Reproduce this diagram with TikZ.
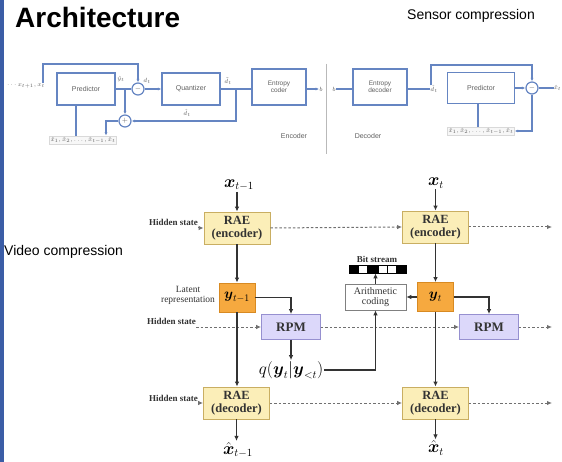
\documentclass[tikz,border=0pt]{standalone}
\usepackage{amsmath}
\usepackage[no-math]{fontspec}
\setmainfont{Liberation Sans}
\newfontfamily\tnr{Liberation Serif}
\usetikzlibrary{arrows.meta,positioning}

\definecolor{stripe}{HTML}{3B5DA6}
\definecolor{sblue}{HTML}{6585C2}
\definecolor{stext}{HTML}{606060}
\definecolor{raefill}{HTML}{FBEEB8}
\definecolor{raedraw}{HTML}{C9AE62}
\definecolor{yfill}{HTML}{F6A93F}
\definecolor{ydraw}{HTML}{D88A22}
\definecolor{rpmfill}{HTML}{DCD8FA}
\definecolor{rpmdraw}{HTML}{9690D0}
\definecolor{ink}{HTML}{333333}
\definecolor{dotgray}{HTML}{707070}

\tikzset{
  % sensor (DPCM) diagram
  sbox/.style={draw=sblue, line width=1.2pt, fill=white, minimum width=58, minimum height=32,
    inner sep=0, font=\fontsize{7}{7.5}\selectfont, text=stext, align=center},
  sline/.style={draw=sblue, line width=1.2pt},
  sarr/.style={sline, -{Latex[length=3.5pt,width=3pt]}},
  scirc/.style={circle, draw=sblue, line width=1.2pt, fill=white, minimum size=12, inner sep=0,
    font=\fontsize{7}{7}\selectfont, text=stext},
  slab/.style={inner sep=0, font=\fontsize{6.5}{7}\selectfont, text=stext},
  hist/.style={draw=gray!30, fill=gray!6, inner sep=1pt, font=\fontsize{6}{7}\selectfont, text=stext},
  % video compression diagram
  rae/.style={draw=raedraw, fill=raefill, line width=0.8pt, minimum width=66, minimum height=32,
    inner sep=0, align=center, font=\tnr\bfseries\fontsize{12.5}{12.5}\selectfont, text=ink},
  ybox/.style={draw=ydraw, fill=yfill, line width=0.8pt, minimum width=36, minimum height=29,
    inner sep=0, font=\fontsize{14}{16}\selectfont},
  rpm/.style={draw=rpmdraw, fill=rpmfill, line width=0.8pt, minimum width=59, minimum height=25,
    inner sep=0, font=\tnr\bfseries\fontsize{13}{14}\selectfont, text=ink},
  abox/.style={draw=gray, fill=white, line width=0.6pt, minimum width=61, minimum height=26,
    inner sep=0, align=center, font=\tnr\fontsize{10}{10.5}\selectfont, text=ink},
  hlab/.style={inner sep=0, font=\tnr\bfseries\fontsize{9}{10}\selectfont, text=ink},
  mlab/.style={inner sep=1pt, font=\fontsize{16}{18}\selectfont},
  bitsq/.style={draw=black, line width=0.6pt, minimum width=9, minimum height=8, inner sep=0},
  flow/.style={draw=ink, line width=1.3pt, -{Latex[length=5pt,width=4.5pt]}},
  dots/.style={draw=dotgray, line width=1pt, dash pattern=on 2.5pt off 2pt,
    -{Latex[length=5pt,width=4.5pt]}},
}

\begin{document}
\begin{tikzpicture}[x=1pt,y=-1pt]
\useasboundingbox (0,0) rectangle (562,462);
\fill[white] (0,0) rectangle (562,462);
\fill[stripe] (0,0) rectangle (3.5,462);
\clip (0,0) rectangle (562,462);

% headings
\node[anchor=base west, inner sep=0, font=\bfseries\fontsize{28}{30}\selectfont] (title) at (15,28) {Architecture};
\node[anchor=base west, inner sep=0, font=\fontsize{14}{16}\selectfont] (sensor) at (407,20) {Sensor compression};
\node[anchor=base west, inner sep=0, font=\fontsize{14}{16}\selectfont] (video) at (4,256) {Video compression};

% ---------------- sensor compression: encoder ----------------
\node[slab] (xin) at (26,86) {$\cdots x_{t+1}, x_t$};
\node[sbox] (pred1) at (86,89) {Predictor};
\node[scirc] (sub1) at (138,89) {$-$};
\node[sbox] (quant) at (191,89) {Quantizer};
\node[sbox, minimum width=54, minimum height=36, font=\fontsize{6.5}{7.5}\selectfont] (ecod) at (279,87) {Entropy\\coder};
\node[scirc] (add1) at (125,121) {$+$};
\node[hist] (hist1) at (83,140) {$\hat{x}_1,\hat{x}_2,\ldots,\hat{x}_{t-1},\hat{x}_t$};
\node[slab] (yhat) at (121,79) {$\hat{y}_t$};
\node[slab] (dlab) at (147,81) {$d_t$};
\node[slab] (qlab) at (228,81) {$\tilde{d}_t$};
\node[slab] (fblab) at (187,113) {$\hat{d}_t$};
\node[slab] (bout) at (321,89) {$b$};
\coordinate (fb1) at (138,64);
\coordinate (j1) at (125,89);
\coordinate (j2) at (236,89);

\draw[sarr] ([xshift=-2pt]xin.north east) |- (fb1) -- (sub1.north);
\draw[sline] (pred1.east) -- (sub1.west);
\draw[sarr] (j1) -- (add1.north);
\draw[sarr] (sub1.east) -- (quant.west);
\draw[sline] (quant.east) -- (quant.east -| ecod.west);
\draw[sarr] (j2) |- (add1.east);
\draw[sarr] (add1.west) -| ([xshift=23pt]hist1.north);
\draw[sline] ([xshift=-10pt]pred1.south) -- ([xshift=-10pt]pred1.south |- hist1.north);
\draw[sarr] (ecod.east |- bout.west) -- (bout.west);

% divider and captions
\coordinate (divt) at (326,64);
\coordinate (divb) at (326,154);
\draw[gray!55, line width=0.8pt] (divt) -- (divb);
\node[slab, font=\fontsize{7}{8}\selectfont] (enclab) at (294,136) {Encoder};
\node[slab, font=\fontsize{7}{8}\selectfont] (declab) at (368,136) {Decoder};

% ---------------- sensor compression: decoder ----------------
\node[slab] (bin) at (334,89) {$b$};
\node[sbox, minimum width=54, minimum height=36, font=\fontsize{6.5}{7.5}\selectfont] (edec) at (380,87) {Entropy\\decoder};
\node[slab] (dhat) at (434,89) {$\hat{d}_t$};
\node[sbox, minimum width=67, minimum height=31] (pred2) at (481,88) {Predictor};
\node[scirc] (add2) at (532,88) {$-$};
\node[hist] (hist2) at (481,131) {$\hat{x}_1,\hat{x}_2,\ldots,\hat{x}_{t-1},\hat{x}_t$};
\node[slab, anchor=east] (xout) at (561.5,88) {$\hat{x}_t$};
\coordinate (fb2) at (532,65);

\draw[sline] (bin.east) -- (bin.east -| edec.west);
\draw[sline] (edec.east |- bin.east) -- (dhat.west);
\draw[sarr] ([xshift=-3pt]dhat.north) |- (fb2) -- (add2.north);
\draw[sarr] (pred2.east) -- (add2.west);
\draw[sline] (add2.east) -- (xout.west);
\draw[sline] ([xshift=-3pt]pred2.south) -- ([xshift=-3pt]pred2.south |- hist2.north);
\draw[sarr] (add2.south) |- (hist2.east);

% ---------------- video compression ----------------
\node[mlab] (xa) at (239,185) {$\boldsymbol{x}_{t-1}$};
\node[mlab] (xb) at (436,183) {$\boldsymbol{x}_t$};
\node[rae] (encA) at (237,228) {RAE\\(encoder)};
\node[rae] (encB) at (435.5,227) {RAE\\(encoder)};
\node[ybox] (ya) at (237,297.5) {$\boldsymbol{y}_{t-1}$};
\node[ybox] (yb) at (435.5,297) {$\boldsymbol{y}_t$};
\node[rpm] (rpmA) at (291,327) {RPM};
\node[rpm] (rpmB) at (489,327) {RPM};
\node[rae] (decA) at (236.5,403) {RAE\\(decoder)};
\node[rae] (decB) at (435.5,403) {RAE\\(decoder)};
\node[abox] (arith) at (375.5,297) {Arithmetic\\coding};
\node[mlab] (q) at (291,370) {$q(\boldsymbol{y}_t|\boldsymbol{y}_{<t})$};
\node[mlab] (xha) at (238,450) {$\hat{\boldsymbol{x}}_{t-1}$};
\node[mlab] (xhb) at (436,448) {$\hat{\boldsymbol{x}}_t$};

\node[hlab, anchor=base east] (hsE) at (198,226) {Hidden state};
\node[hlab, anchor=base east] (hsR) at (196,324) {Hidden state};
\node[hlab, anchor=base east] (hsD) at (198,401) {Hidden state};
\node[inner sep=0, align=center, font=\tnr\fontsize{9.5}{10}\selectfont, text=ink] (latent) at (188,295) {Latent\\representation};

% bit stream
\node[bitsq, fill=black] (b1) at (353.5,269) {};
\node[bitsq, fill=white, right=0pt of b1] (b2) {};
\node[bitsq, fill=black, right=0pt of b2] (b3) {};
\node[bitsq, fill=white, right=0pt of b3] (b4) {};
\node[bitsq, fill=white, right=0pt of b4] (b5) {};
\node[bitsq, fill=black, right=0pt of b5] (b6) {};
\node[hlab] (bitlab) at (377,259) {Bit stream};

\coordinate (endE) at (552,227);
\coordinate (endR) at (552,327);
\coordinate (endD) at (552,403);

% hidden-state paths
\draw[dots] (encA.west -| hsE.east) -- (encA.west);
\draw[dots] (encA.east) -- (encB.west);
\draw[dots] (encB.east) -- (endE);
\draw[dots] (rpmA.west -| hsR.east) -- (rpmA.west);
\draw[dots] (rpmA.east) -- (rpmB.west);
\draw[dots] (rpmB.east) -- (endR);
\draw[dots] (decA.west -| hsD.east) -- (decA.west);
\draw[dots] (decA.east) -- (decB.west);
\draw[dots] (decB.east) -- (endD);

% data flow
\draw[flow] (encA.north |- xa.south) -- (encA.north);
\draw[flow] (encB.north |- xb.south) -- (encB.north);
\draw[flow] (encA) -- (ya);
\draw[flow] (encB) -- (yb);
\draw[flow] (ya) -- (decA.north -| ya.south);
\draw[flow] (yb) -- (decB.north -| yb.south);
\draw[flow] (ya.east) -| (rpmA.north);
\draw[flow] (yb.east) -| (rpmB.north);
\draw[flow] (rpmA) -- (q);
\draw[flow] (q.east) -| (arith.south);
\draw[flow] (yb.west) -- (arith.east);
\draw[flow] (arith.north) -- (arith.north |- b1.south);
\draw[flow] (decA.south) -- (decA.south |- xha.north);
\draw[flow] (decB.south) -- (decB.south |- xhb.north);
\end{tikzpicture}
\end{document}
